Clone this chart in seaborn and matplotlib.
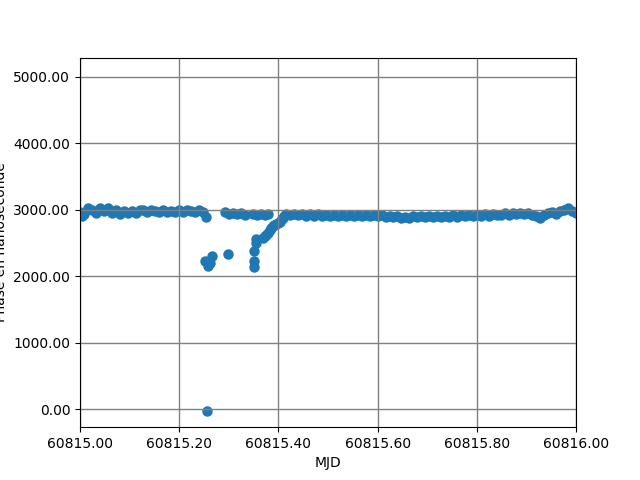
import numpy as np
import pandas as pd
import seaborn as sns
import matplotlib
matplotlib.use('Agg')
import matplotlib.pyplot as plt
from matplotlib.ticker import FormatStrFormatter

# base MJD
mjd0 = 60815.0

# premier segment (offsets en jour)
x_a = [0.000, 0.004, 0.008, 0.016, 0.024, 0.032, 0.040, 0.048, 0.056, 0.064, 0.072,
       0.080, 0.088, 0.096, 0.104, 0.112, 0.120, 0.128, 0.136, 0.144, 0.152,
       0.160, 0.168, 0.176, 0.184, 0.192, 0.200, 0.208, 0.216, 0.224, 0.232,
       0.240, 0.248, 0.254]
y_a = [2960, 2910, 2930, 3020, 2990, 2950, 3025, 2975, 3020, 2955, 2990,
       2940, 2975, 2950, 2985, 2945, 2995, 2990, 2970, 2995, 2980,
       2965, 2990, 2970, 2985, 2965, 2990, 2970, 2995, 2975, 2960,
       2990, 2965, 2895]

# sauts de phase
x_out = [0.253, 0.256, 0.258, 0.262, 0.266, 0.298]
y_out = [2230, -20, 2150, 2200, 2310, 2340]

# deuxieme segment
x_b = [0.292, 0.300, 0.308, 0.316, 0.324, 0.332, 0.348, 0.356, 0.364, 0.372, 0.380]
y_b = [2965, 2940, 2945, 2930, 2945, 2925, 2940, 2925, 2935, 2920, 2930]

# colonne verticale
x_col = [0.354, 0.354, 0.350, 0.350, 0.350]
y_col = [2560, 2500, 2380, 2230, 2140]

# remontee
x_ramp = [0.369, 0.372, 0.375, 0.379, 0.383, 0.386, 0.389, 0.392, 0.395, 0.399, 0.403, 0.406, 0.409, 0.412]
y_ramp = [2580, 2600, 2620, 2650, 2700, 2730, 2760, 2775, 2790, 2800, 2820, 2850, 2880, 2905]

# dernier segment
x_c = [0.416, 0.424, 0.432, 0.440, 0.448, 0.456, 0.464, 0.472, 0.480, 0.488,
       0.496, 0.504, 0.512, 0.520, 0.528, 0.536, 0.544, 0.552, 0.560, 0.568,
       0.576, 0.584, 0.592, 0.600, 0.608, 0.616, 0.624, 0.632, 0.640, 0.648,
       0.656, 0.664, 0.672, 0.680, 0.688, 0.696, 0.704, 0.712, 0.720, 0.728,
       0.736, 0.744, 0.752, 0.760, 0.768, 0.776, 0.784, 0.792, 0.800, 0.808,
       0.816, 0.824, 0.832, 0.840, 0.848, 0.856, 0.864, 0.872, 0.880, 0.888,
       0.896, 0.904, 0.912, 0.920, 0.928, 0.936, 0.944, 0.952, 0.960, 0.968,
       0.976, 0.984, 0.992, 1.000]
y_c = [2935, 2915, 2935, 2920, 2935, 2910, 2930, 2910, 2930, 2905,
       2925, 2905, 2925, 2905, 2925, 2900, 2925, 2905, 2925, 2900,
       2925, 2905, 2920, 2900, 2915, 2895, 2905, 2885, 2900, 2875,
       2895, 2880, 2900, 2885, 2900, 2885, 2905, 2890, 2910, 2890,
       2910, 2895, 2915, 2895, 2915, 2900, 2920, 2900, 2925, 2905,
       2930, 2900, 2935, 2915, 2925, 2945, 2915, 2950, 2935, 2955,
       2930, 2945, 2915, 2900, 2875, 2915, 2950, 2965, 2935, 2975,
       2990, 3020, 2985, 2950]

x_all = x_a + x_out + x_b + x_col + x_ramp + x_c
y_all = y_a + y_out + y_b + y_col + y_ramp + y_c
df = pd.DataFrame({'MJD': np.array(x_all) + mjd0, 'phase': y_all})

fig, ax = plt.subplots(figsize=(6.4, 4.8), dpi=100)
sns.scatterplot(data=df, x='MJD', y='phase', ax=ax, color='#1f77b4', s=36,
                edgecolor='#1f77b4', linewidth=1.5)
ax.set_xlim(60815.0, 60816.0)
ax.set_ylim(-270, 5286)
ax.set_xticks([60815.0, 60815.2, 60815.4, 60815.6, 60815.8, 60816.0])
ax.set_yticks([0, 1000, 2000, 3000, 4000, 5000])
ax.xaxis.set_major_formatter(FormatStrFormatter('%.2f'))
ax.yaxis.set_major_formatter(FormatStrFormatter('%.2f'))
ax.set_xlabel('MJD')
ax.set_ylabel('Phase en nanoseconde')
ax.grid(color='gray', linewidth=1)
fig.savefig('out.png', dpi=100)
